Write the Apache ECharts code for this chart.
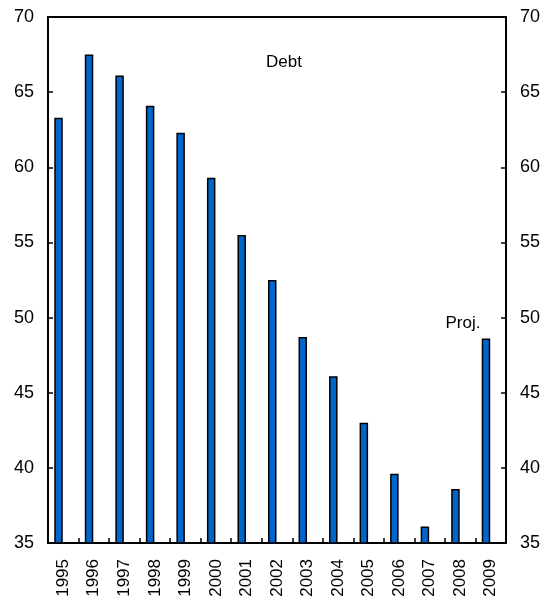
<!DOCTYPE html>
<html>
<head>
<meta charset="utf-8">
<script src="https://cdn.jsdelivr.net/npm/echarts@6/dist/echarts.min.js"></script>
<style>html,body{margin:0;padding:0;background:#fff;}#c{width:553px;height:602px;}</style>
</head>
<body>
<div id="c"></div>
<script>
var years = ['1995','1996','1997','1998','1999','2000','2001','2002','2003','2004','2005','2006','2007','2008','2009'];
var debt = [63.3, 67.5, 66.1, 64.1, 62.3, 59.3, 55.5, 52.5, 48.7, 46.1, 43.0, 39.6, 36.1, 38.6, 48.6];
var yTicks = [35, 40, 45, 50, 55, 60, 65, 70];

var chart = echarts.init(document.getElementById('c'), null, {renderer: 'canvas'});
var font = 'Arial, "Liberation Sans", sans-serif';
var yAxisCommon = {
  type: 'value', min: 35, max: 70, interval: 5,
  axisLine: {show: true, lineStyle: {color: '#000', width: 2}},
  axisTick: {show: true, inside: true, length: 5, lineStyle: {color: '#000', width: 1.5}},
  splitLine: {show: false},
  axisLabel: {color: '#000', fontSize: 18, fontFamily: font, margin: 14}
};
chart.setOption({
  animation: false,
  grid: {left: 48, right: 47, top: 17, bottom: 59, show: true, borderColor: '#000', borderWidth: 2, containLabel: false},
  xAxis: {
    type: 'category', data: years,
    axisLine: {show: true, lineStyle: {color: '#000', width: 2}},
    axisTick: {show: true, inside: true, length: 5, alignWithLabel: false, lineStyle: {color: '#000', width: 1.5}},
    axisLabel: {rotate: 90, color: '#000', fontSize: 17, fontFamily: font, margin: 16, interval: 0}
  },
  yAxis: [
    Object.assign({position: 'left'}, yAxisCommon),
    Object.assign({position: 'right'}, yAxisCommon)
  ],
  series: [
    {type: 'bar', data: debt, barWidth: 8.5, barGap: '12%',
     itemStyle: {color: '#0066cc', borderColor: '#000', borderWidth: 1.5}},
    {type: 'bar', data: years.map(function(){return '-';}), barWidth: 8.5}
  ],
  graphic: [
    {type: 'text', x: 284, y: 62, style: {text: 'Debt', font: '17px ' + font, fill: '#000', textAlign: 'center', textVerticalAlign: 'middle'}},
    {type: 'text', x: 463, y: 323, style: {text: 'Proj.', font: '17px ' + font, fill: '#000', textAlign: 'center', textVerticalAlign: 'middle'}}
  ]
});
</script>
</body>
</html>
